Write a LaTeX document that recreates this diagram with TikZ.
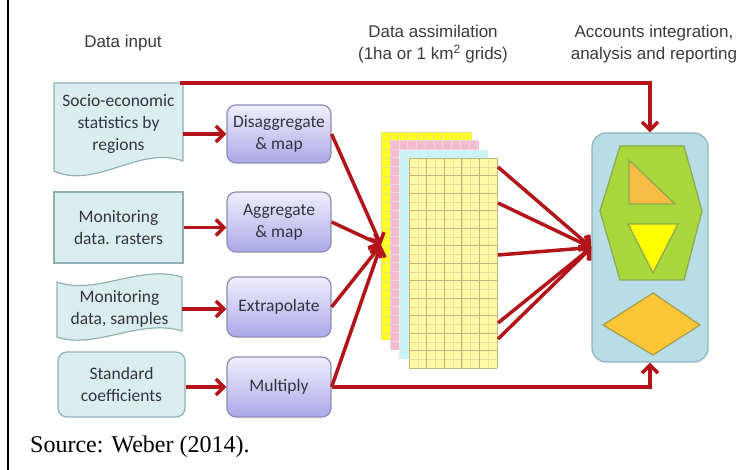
\documentclass[tikz,border=0pt]{standalone}
\usepackage{fontspec}
\setmainfont{Liberation Serif}
\newfontfamily\arialf{Liberation Sans}
\newfontfamily\calf{Carlito}
\usetikzlibrary{arrows.meta,calc}
\definecolor{arrred}{HTML}{B31419}
\definecolor{labgray}{HTML}{3A3A3A}
\definecolor{txtgray}{HTML}{33333F}
\definecolor{infill}{HTML}{DAEEF0}
\definecolor{inbord}{HTML}{8FB1B6}
\definecolor{proctop}{HTML}{F0EFFC}
\definecolor{procbot}{HTML}{ACA8E8}
\definecolor{procbord}{HTML}{8E8CB2}
\definecolor{accfill}{HTML}{B9DDE7}
\definecolor{accbord}{HTML}{8FB3BD}
\definecolor{hexgreen}{HTML}{A9D83C}
\definecolor{hexbord}{HTML}{8CAA50}
\definecolor{triorange}{HTML}{F8BB43}
\definecolor{triyellow}{HTML}{FFFF00}
\definecolor{diafill}{HTML}{FDC636}
\definecolor{shapebord}{HTML}{A8A050}
\definecolor{gyel}{HTML}{FFFF22}
\definecolor{gpink}{HTML}{F4BACD}
\definecolor{gcyan}{HTML}{C8F4F8}
\definecolor{gfront}{HTML}{FFF8A4}
\definecolor{gmajor}{HTML}{BDB67E}
\definecolor{gminor}{HTML}{E6DF9E}
\begin{document}
\begin{tikzpicture}[x=1pt,y=-1pt,
  redline/.style={draw=arrred,line width=3.5pt},
  redarr/.style={redline,-{Straight Barb[length=8pt,width=16pt]}},
  headtxt/.style={font=\arialf\fontsize{17}{22}\selectfont,text=labgray,align=center},
  boxtxt/.style={font=\calf\fontsize{17.5}{22}\selectfont,text=txtgray,align=center},
  inbox/.style={draw=inbord,fill=infill,line width=1.2pt},
  procbox/.style={draw=procbord,rounded corners=9pt,top color=proctop,bottom color=procbot,
    minimum width=104pt,minimum height=58pt,line width=1.2pt,boxtxt},
  sheet/.style={draw=none,inner sep=0pt},
  minorl/.style={draw=gminor,line width=0.45pt},
  majorl/.style={draw=gmajor,line width=0.8pt},
]
\useasboundingbox (0,0) rectangle (747,470);
\draw[line width=2pt] (8,0) -- (8,470);

% column headings
\node[headtxt] (h1) at (123,43) {Data input};
\node[headtxt] (h2) at (433,44) {Data assimilation\\(1ha or 1 km\textsuperscript{2} grids)};
\node[headtxt] (h3) at (654,44) {Accounts integration,\\analysis and reporting};

% input boxes
\path[inbox] (54,83) -- (183,83) -- (183,161)
  .. controls (140,145) and (95,190) .. (54,171) -- cycle;
\node[boxtxt,minimum width=129pt] (socio) at (118.5,124) {Socio-economic\\statistics by\\regions};
\node[inbox,boxtxt,minimum width=129pt,minimum height=71pt] (ras) at (118.5,227.5) {Monitoring\\data. rasters};
\path[inbox] (57,282) .. controls (95,296) and (140,264) .. (182,277) -- (182,331)
  .. controls (140,318) and (95,350) .. (57,337) -- cycle;
\node[boxtxt,minimum width=125pt] (samp) at (119.5,309) {Monitoring\\data, samples};
\node[inbox,boxtxt,rounded corners=9pt,minimum width=127pt,minimum height=65pt] (coef) at (121.5,384.5) {Standard\\coefficients};

% process boxes
\node[procbox] (dis) at (279,134) {Disaggregate\\\& map};
\node[procbox,minimum height=60pt] (agg) at (279,222) {Aggregate\\\& map};
\node[procbox,minimum height=60pt] (ext) at (279,307) {Extrapolate};
\node[procbox,minimum height=60pt] (mul) at (279,387) {Multiply};

% grid sheets
\node[sheet,fill=gyel,minimum width=91pt,minimum height=208pt] (s1) at (426,236) {};
\begin{scope}[shift={(381,132)}]
  \foreach \i in {0,...,10} \draw[minorl,draw=gyel!80!black!55] (\i*8.75,0) -- (\i*8.75,208);
  \foreach \j in {0,...,23} \draw[minorl,draw=gyel!80!black!55] (0,\j*8.75) -- (91,\j*8.75);
\end{scope}
\node[sheet,fill=gpink,minimum width=89pt,minimum height=210pt] (s2) at (434.5,245) {};
\begin{scope}[shift={(390,140)}]
  \foreach \i in {0,...,10} \draw[minorl,draw=gpink!85!black!40] (\i*8.75,0) -- (\i*8.75,210);
  \foreach \j in {0,...,23} \draw[minorl,draw=gpink!85!black!40] (0,\j*8.75) -- (89,\j*8.75);
\end{scope}
\node[sheet,fill=gcyan,minimum width=88pt,minimum height=209pt] (s3) at (443.5,254.5) {};
\begin{scope}[shift={(399,150)}]
  \foreach \i in {0,...,10} \draw[minorl,draw=gcyan!85!black!35] (\i*8.75,0) -- (\i*8.75,209);
  \foreach \j in {0,...,23} \draw[minorl,draw=gcyan!85!black!35] (0,\j*8.75) -- (88,\j*8.75);
\end{scope}
\node[sheet,fill=gfront,minimum width=88pt,minimum height=210pt] (s4) at (453,263) {};
\begin{scope}[shift={(409,158)}]
  \foreach \i in {0,...,10} \draw[minorl] (\i*8.8,0) -- (\i*8.8,210);
  \foreach \j in {0,...,24} \draw[minorl] (0,\j*8.75) -- (88,\j*8.75);
  \foreach \i in {0,...,5} \draw[majorl] (\i*17.6,0) -- (\i*17.6,210);
  \foreach \j in {0,...,12} \draw[majorl] (0,\j*17.5) -- (88,\j*17.5);
\end{scope}

% accounts box
\node[draw=accbord,fill=accfill,rounded corners=14pt,minimum width=116pt,minimum height=229pt,line width=1.2pt] (acc) at (650,247.5) {};
\draw[fill=hexgreen,draw=hexbord,line width=1.3pt] (620,146) -- (684,146) -- (702,211) -- (684,280) -- (620,280) -- (600,211) -- cycle;
\draw[fill=triorange,draw=hexbord,line width=1.3pt] (629,160) -- (675,204) -- (629,204) -- cycle;
\draw[fill=triyellow,draw=hexbord,line width=1.3pt] (628,224) -- (678,224) -- (653,273) -- cycle;
\draw[fill=diafill,draw=shapebord,line width=1.3pt] (603,325) -- (653,293) -- (700,325) -- (653,355) -- cycle;

% connector anchor points
\coordinate (topstart) at (180,83);
\coordinate (gin) at (381,245);
\coordinate (g1) at (498,167);
\coordinate (g2) at (498,203);
\coordinate (g3) at (498,255);
\coordinate (g4) at (498,323);
\coordinate (g5) at (498,339);

% connectors
\draw[redarr] (topstart) -| (acc.north);
\draw[redarr] (socio.east |- dis.west) -- (dis.west);
\draw[redarr] (ras.east) -- (ras.east -| agg.west);
\draw[redarr] (samp.east) -- (samp.east -| ext.west);
\draw[redarr] (coef.east |- mul.west) -- (mul.west);
\draw[redarr] (dis.east) -- (gin);
\draw[redarr] (agg.east) -- (gin);
\draw[redarr] (ext.east) -- (gin);
\draw[redarr] (mul.east) -- (gin);
\draw[redarr] (mul.east) -| (acc.south);
\foreach \g in {g1,g2,g3,g4,g5} \draw[redarr] (\g) -- (acc.west);

% source
\node[font=\fontsize{24}{28}\selectfont,anchor=base west,inner sep=0pt] (src) at (30,452) {Source: Weber (2014).};
\end{tikzpicture}
\end{document}
